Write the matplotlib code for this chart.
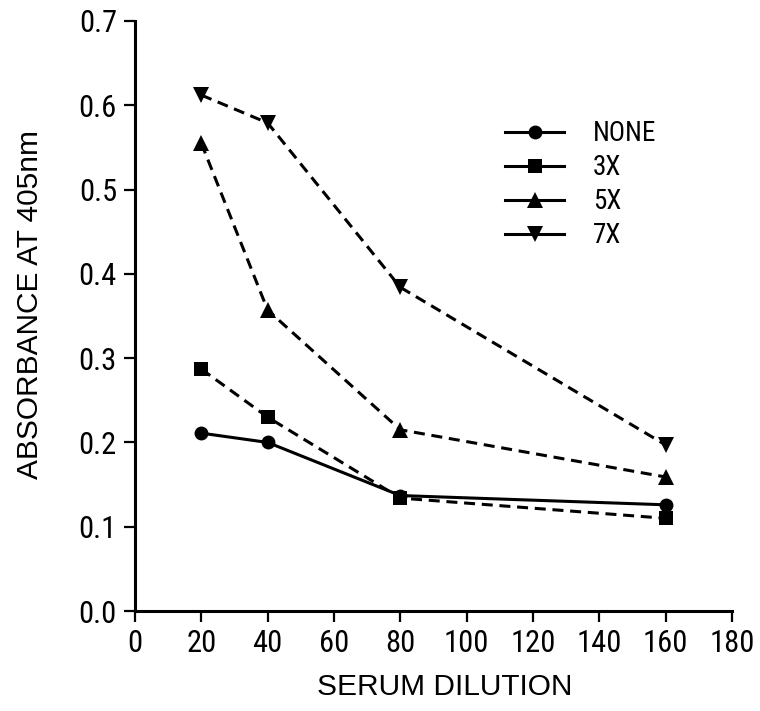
import matplotlib
matplotlib.use("Agg")
import matplotlib.pyplot as plt
from matplotlib import font_manager

installed = {f.name for f in font_manager.fontManager.ttflist}
narrow_pref = ["Liberation Sans Narrow", "Roboto Condensed", "Open Sans Condensed", "Liberation Sans"]
narrow = next(f for f in narrow_pref if f in installed)
plain = "Liberation Sans" if "Liberation Sans" in installed else "DejaVu Sans"
plt.rcParams["font.family"] = [narrow, "DejaVu Sans"]

dilution = [20, 40, 80, 160]
none_vals = [0.211, 0.200, 0.137, 0.126]
x3_vals = [0.287, 0.230, 0.134, 0.110]
x5_vals = [0.555, 0.357, 0.215, 0.159]
x7_vals = [0.612, 0.579, 0.384, 0.197]
labels = ["NONE", "3X", "5X", "7X"]
x_ticks = list(range(0, 181, 20))
y_ticks = [0.0, 0.1, 0.2, 0.3, 0.4, 0.5, 0.6, 0.7]

fig = plt.figure(figsize=(7.6, 7.11), dpi=100)
ax = fig.add_axes([0.1776, 0.1406, 0.7855, 0.830])

dash = (0, (3.6, 2.2))
lw = 2.2
series = [
    (none_vals, "-", "o", 10),
    (x3_vals, dash, "s", 10.5),
    (x5_vals, dash, "^", 12),
    (x7_vals, dash, "v", 12),
]
handles = []
for (vals, ls, mk, ms), lab in zip(series, labels):
    ax.plot(dilution, vals, color="black", lw=lw, ls=ls, marker=mk, ms=ms,
            markeredgewidth=0, clip_on=False)
    handles.append(plt.Line2D([], [], color="black", lw=lw, ls="-", marker=mk,
                              ms=ms, markeredgewidth=0))

ax.set_xlim(0, 180)
ax.set_ylim(0, 0.7)
ax.set_xticks(x_ticks)
ax.set_yticks(y_ticks)
ax.set_yticklabels([f"{v:.1f}" for v in y_ticks])
for s in ["top", "right"]:
    ax.spines[s].set_visible(False)
for s in ["left", "bottom"]:
    ax.spines[s].set_linewidth(2.2)
ax.tick_params(direction="out", length=8, width=1.6, labelsize=22, pad=5)

ax.set_xlabel("SERUM DILUTION", fontsize=21.5, family=[plain, "DejaVu Sans"])
ax.set_ylabel("ABSORBANCE AT 405nm", fontsize=21.5, family=[plain, "DejaVu Sans"])
ax.xaxis.set_label_coords(0.518, -0.105)
ax.yaxis.set_label_coords(-0.152, 0.52)

ax.legend(handles, labels, loc="upper left", bbox_to_anchor=(0.597, 0.855),
          frameon=False, borderpad=0, handlelength=2.2,
          labelspacing=0.26, handletextpad=1.05, prop={"size": 19.5})

fig.savefig("out.png", dpi=100)
